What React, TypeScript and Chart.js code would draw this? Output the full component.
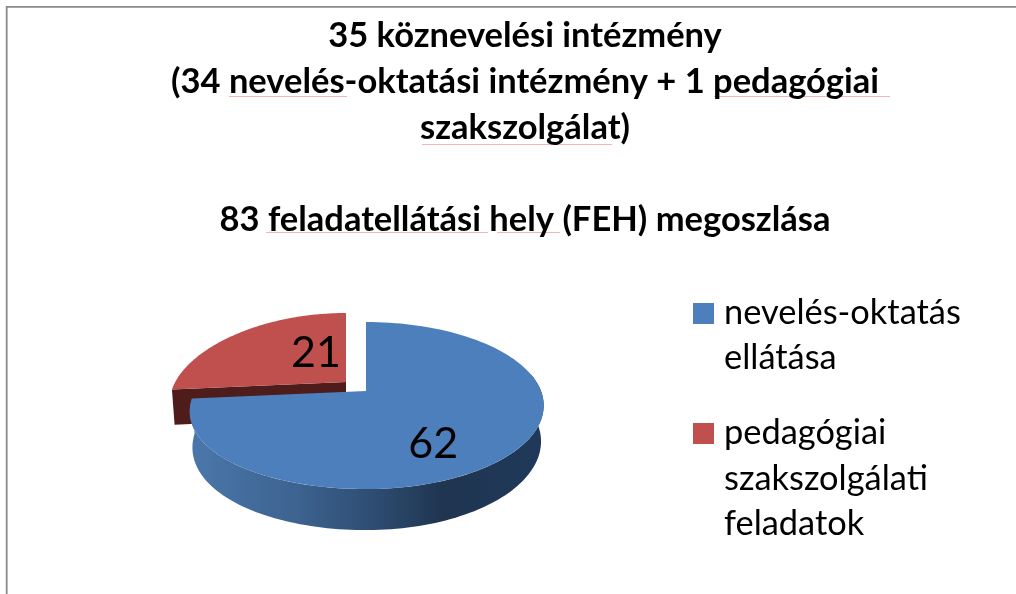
import React, { useEffect, useRef } from "react";
import { Chart, registerables } from "chart.js";

Chart.register(...registerables);

const categories = ["nevelés-oktatás ellátása", "pedagógiai szakszolgálati feladatok"];
const values = [62, 21];
const titleLines = [
  "35 köznevelési intézmény",
  "(34 nevelés-oktatási intézmény + 1 pedagógiai",
  "szakszolgálat)",
  "",
  "83 feladatellátási hely (FEH) megoszlása",
];
const legendLines = [
  ["nevelés-oktatás", "ellátása"],
  ["pedagógiai", "szakszolgálati", "feladatok"],
];
const faceColors = ["#4d7fbc", "#c0504d"];
const FONT = "Lato, Carlito, sans-serif";

// 3D look of the pie
const KEEL = 0.174;
const SQUASH_TOP = 81;
const SQUASH_BOTTOM = 86;
const DEPTH = 35;
const BOTTOM_R = 0.985;
const LEFT_SAG = 6;
const LEFT_PULL = 1.5;
const EXPLODE = [
  [0, 0],
  [-20, -9],
];
const LABEL_ANCHORS = [
  [0.345, 0.585],
  [-0.183, -0.38],
];

const pie3d = {
  id: "pie3d",
  afterLayout(chart: any) {
    const a = chart.chartArea;
    a.left = 191; a.right = 541; a.top = 216; a.bottom = 566;
    a.width = 350; a.height = 350;
  },
  beforeDraw(chart: any) {
    const ctx = chart.ctx;
    ctx.save();
    ctx.strokeStyle = "#8a8a8a";
    ctx.lineWidth = 1.8;
    ctx.beginPath();
    ctx.moveTo(6.7, 594);
    ctx.lineTo(6.7, 6.9);
    ctx.lineTo(1016, 6.9);
    ctx.stroke();
    // spell-check underlines
    ctx.strokeStyle = "#f2b6b6";
    ctx.lineWidth = 1;
    [[229, 347, 96], [714, 890, 96], [422, 612, 144], [266, 488, 232], [497, 560, 232]].forEach(([a, b, y]) => {
      ctx.beginPath();
      ctx.moveTo(a, y + 0.5);
      ctx.lineTo(b, y + 0.5);
      ctx.stroke();
    });
    ctx.restore();
  },
  beforeDatasetsDraw(chart: any) {
    const ctx = chart.ctx;
    const arcs = chart.getDatasetMeta(0).data;
    const order = [1, 0];
    const top = (el: any, i: number, u: number, v: number) => {
      const w = 1 - KEEL * v;
      const s = Math.min(u, 0);
      return [
        el.x + EXPLODE[i][0] + (el.outerRadius * u) / w + LEFT_PULL * s * s,
        el.y + EXPLODE[i][1] + (SQUASH_TOP * v) / w + LEFT_SAG * s * s,
      ];
    };
    const bottom = (el: any, i: number, u: number, v: number) => {
      const w = 1 - KEEL * v;
      const s = Math.min(u, 0);
      return [
        el.x + EXPLODE[i][0] + (el.outerRadius * BOTTOM_R * u) / w + LEFT_PULL * s * s,
        el.y + EXPLODE[i][1] + DEPTH + (SQUASH_BOTTOM * v) / w + LEFT_SAG * s * s,
      ];
    };
    const arcPts = (el: any, i: number, from: number, to: number, fn: any) => {
      const pts: number[][] = [];
      const n = 120;
      for (let k = 0; k <= n; k++) {
        const t = from + ((to - from) * k) / n;
        pts.push(fn(el, i, Math.cos(t), Math.sin(t)));
      }
      return pts;
    };
    const fillPoly = (pts: number[][], fill: any) => {
      ctx.fillStyle = fill;
      ctx.beginPath();
      pts.forEach((p, k) => (k ? ctx.lineTo(p[0], p[1]) : ctx.moveTo(p[0], p[1])));
      ctx.closePath();
      ctx.fill();
    };
    ctx.save();
    order.forEach((i) => {
      const el = arcs[i];
      const { startAngle, endAngle } = el;
      const face = [top(el, i, 0, 0), ...arcPts(el, i, startAngle, endAngle, top)];
      if (i === 1) {
        // cut face of the exploded slice
        const a0 = top(el, i, 0, 0);
        const a1 = top(el, i, Math.cos(startAngle), Math.sin(startAngle));
        const b1 = bottom(el, i, Math.cos(startAngle), Math.sin(startAngle));
        const b0 = bottom(el, i, 0, 0);
        fillPoly([a0, a1, b1, b0], "#4e1c1a");
      } else {
        const from = -0.22;
        const to = endAngle;
        const upper = arcPts(el, i, from, to, top);
        const lower = arcPts(el, i, from, to, bottom).reverse();
        const g = ctx.createLinearGradient(el.x - el.outerRadius, 0, el.x + el.outerRadius, 0);
        g.addColorStop(0, "#4a77aa");
        g.addColorStop(0.3, "#3d6390");
        g.addColorStop(0.5, "#2f4f75");
        g.addColorStop(0.72, "#1f3550");
        g.addColorStop(1, "#20395a");
        fillPoly([...upper, ...lower], g);
      }
      fillPoly(face, el.options.backgroundColor);
    });
    ctx.fillStyle = "#000";
    ctx.font = `43px ${FONT}`;
    ctx.textAlign = "center";
    ctx.textBaseline = "middle";
    arcs.forEach((el: any, i: number) => {
      const [x, y] = top(el, i, LABEL_ANCHORS[i][0], LABEL_ANCHORS[i][1]);
      ctx.fillText(String(values[i]), x, y);
    });
    ctx.restore();
    return false;
  },
  afterDraw(chart: any) {
    const ctx = chart.ctx;
    ctx.save();
    ctx.font = `34.4px ${FONT}`;
    ctx.textAlign = "left";
    ctx.textBaseline = "middle";
    const rows = [
      [313, 358],
      [433, 479, 524],
    ];
    const boxTop = [303, 423];
    legendLines.forEach((lines, i) => {
      ctx.fillStyle = faceColors[i];
      ctx.fillRect(693, boxTop[i], 21, 21);
      ctx.fillStyle = "#000";
      lines.forEach((line, j) => ctx.fillText(line, 724, rows[i][j]));
    });
    ctx.restore();
  },
};

export default function App() {
  const ref = useRef<HTMLCanvasElement | null>(null);
  useEffect(() => {
    const chart = new Chart(ref.current as HTMLCanvasElement, {
      type: "pie",
      data: {
        labels: categories,
        datasets: [{ data: values, backgroundColor: faceColors, borderWidth: 0 }],
      },
      options: {
        animation: false,
        responsive: false,
        layout: { padding: { left: 34 } },
        plugins: {
          legend: { display: false },
          tooltip: { enabled: false },
          title: {
            display: true,
            text: titleLines,
            color: "#000",
            align: "center",
            padding: { top: 13, bottom: 0 },
            font: { family: FONT, size: 34.5, weight: "bold", lineHeight: 1.333 },
          },
        },
      },
      plugins: [pie3d],
    } as any);
    return () => chart.destroy();
  }, []);
  return (
    <canvas
      ref={ref}
      width={1016}
      height={594}
      style={{ position: "fixed", left: 0, top: 0, width: 1016, height: 594, background: "#fff" }}
    />
  );
}
